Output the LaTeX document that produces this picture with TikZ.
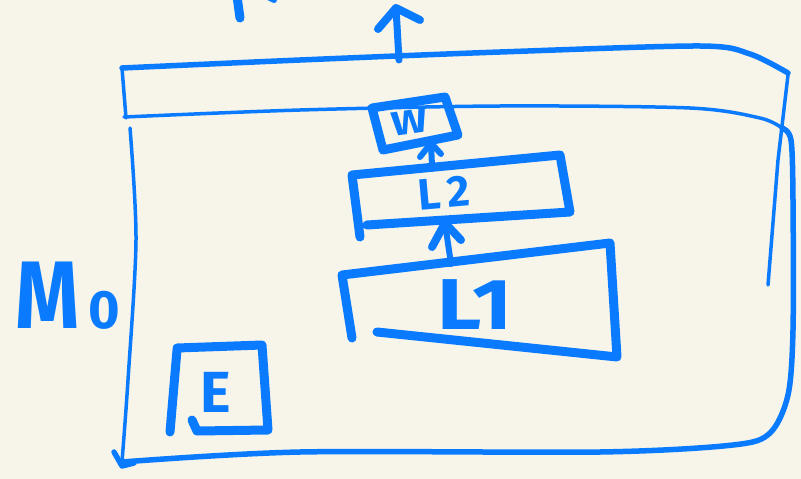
\documentclass[tikz,border=0pt]{standalone}
\usepackage{fontspec}
\usepackage{graphicx}
\setmainfont{Fira Sans}
\definecolor{paper}{HTML}{F7F5EA}
\definecolor{ink}{HTML}{0A7BFF}
\begin{document}
\begin{tikzpicture}[x=1pt,y=-1pt,
  pen/.style={draw=ink,line cap=round,line join=round},
  thick pen/.style={pen,line width=9pt},
  mid pen/.style={pen,line width=5.5pt},
  thin pen/.style={pen,line width=3.5pt},
  label/.style={text=ink,inner sep=0pt,font=\bfseries}]
\fill[paper] (0,0) rectangle (801,479);
\useasboundingbox (0,0) rectangle (801,479);

% fragment at top edge
\draw[pen,line width=9pt] (237,-4) -- (240,18);
\draw[pen,line width=6pt] (268,-3) -- (274,0);

% outer frame
\draw[mid pen] plot[smooth] coordinates {(122,68) (300,60) (500,52) (700,46) (750,54) (788,73)};
\draw[thin pen] (122,68) -- (126,118);
\draw[thin pen] (788,75) -- (778,160) -- (768,285);
\draw[thin pen] plot[smooth] coordinates {(124,117) (300,110) (500,106) (690,108) (760,118) (782,128)};
\draw[mid pen] plot[smooth] coordinates {(782,128) (791,140) (793,200) (793,330) (788,395) (770,433) (733,445) (600,452) (300,452) (122,462)};
\draw[thin pen] plot[smooth] coordinates {(130,128) (136,240) (128,380) (122,462)};
\draw[mid pen] (114,452) -- (122,466) -- (134,463);

% top arrow
\coordinate (topfoot) at (399,60);
\coordinate (toptip) at (396,8);
\draw[pen,line width=7pt] (topfoot) -- (toptip);
\draw[pen,line width=8pt] (378,29) -- (toptip) -- (420,20);

% W box
\draw[thick pen] (372,108) -- (445,97) -- (458,135) -- (383,150) -- cycle;
\node[label,font=\bfseries\fontsize{34}{34}\selectfont,rotate=8] (w) at (410,122) {\scalebox{1.25}[1]{W}};

% L2 box
\draw[thick pen] (360,237) -- (352,175) -- (560,155) -- (570,212) -- (367,225);
\node[label,font=\bfseries\fontsize{44}{44}\selectfont,rotate=5] (l2) at (444,193) {L\kern6pt 2};

% L1 box
\draw[thick pen] (352,338) -- (342,275) -- (610,243) -- (617,357) -- (377,332);
\node[label,font=\bfseries\fontsize{72}{72}\selectfont] (l1) at (475,305) {\scalebox{1.2}[1]{L1}};

% arrow L2 -> W
\coordinate (wfoot) at (432,166);
\coordinate (wtip) at (431,143);
\draw[pen,line width=6pt] (wfoot) -- (wtip);
\draw[pen,line width=6pt] (420,157) -- (wtip) -- (441,154);

% arrow L1 -> L2
\coordinate (l1top) at (451,264);
\coordinate (l2bot) at (445,223);
\draw[pen,line width=6pt] (l1top) -- (l2bot);
\draw[pen,line width=8pt] (432,247) -- (l2bot) -- (461,240);

% E box
\draw[thick pen] (177,350) -- (170,432);
\draw[thick pen] (177,348) -- (262,345) -- (268,430) -- (197,431) -- (192,420);
\node[label,font=\bfseries\fontsize{58}{58}\selectfont] (e) at (216,392) {E};

% M0 label
\node[label,font=\bfseries\fontsize{96}{96}\selectfont] (m) at (48,295) {\scalebox{0.85}[1]{M}};
\node[label,font=\bfseries\fontsize{54}{54}\selectfont] (zero) at (104,310) {0};
\end{tikzpicture}
\end{document}
